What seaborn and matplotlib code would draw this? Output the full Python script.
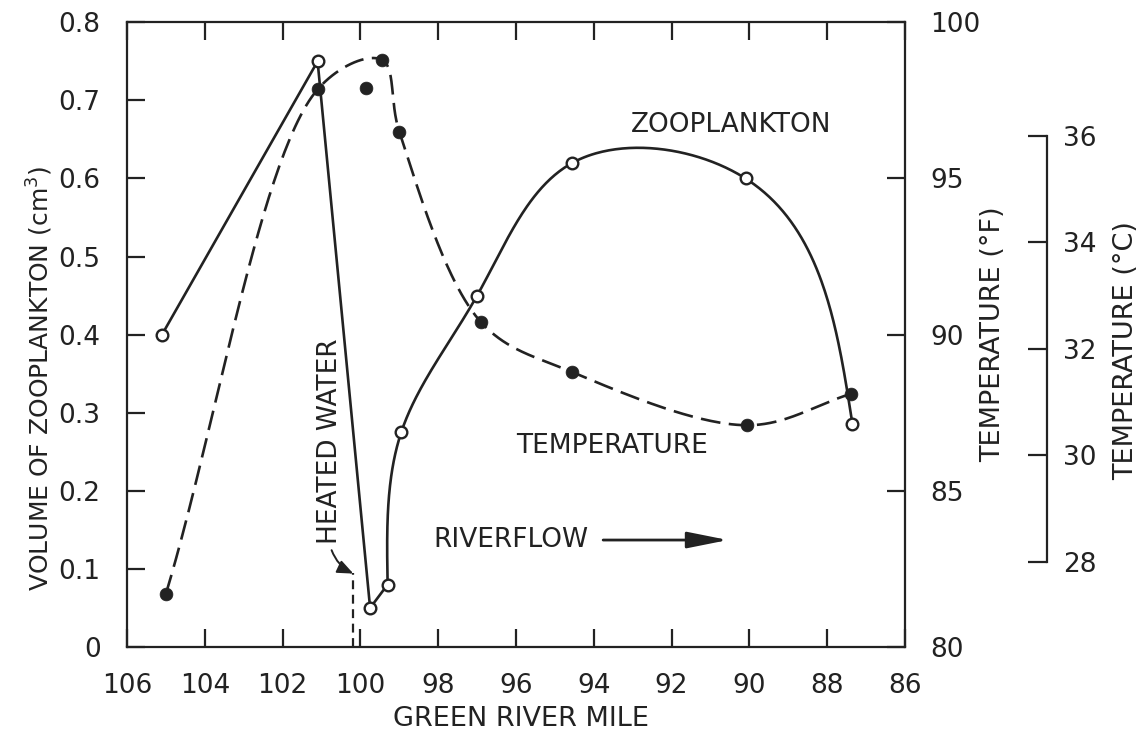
import numpy as np
import pandas as pd
import matplotlib
matplotlib.use("Agg")
import matplotlib.pyplot as plt
import seaborn as sns

# ---------------- data ----------------
zoo_mile = [105.1, 101.1, 99.75, 99.3, 98.95, 97.0, 94.55, 90.1, 87.35]
zoo_vol = [0.40, 0.75, 0.05, 0.08, 0.275, 0.45, 0.62, 0.60, 0.285]

temp_mile = [105.0, 101.1, 99.85, 99.45, 99.0, 96.9, 94.55, 90.05, 87.4]
temp_F = [81.7, 97.85, 97.9, 98.8, 96.5, 90.4, 88.8, 87.1, 88.1]
temp_off_curve = [2]          # measured point not on the drawn (fitted) curve

heated_mile = 100.2

x_ticks = [106, 104, 102, 100, 98, 96, 94, 92, 90, 88, 86]
vol_ticks = [0, 0.1, 0.2, 0.3, 0.4, 0.5, 0.6, 0.7, 0.8]
vol_tick_labels = ["0", "0.1", "0.2", "0.3", "0.4", "0.5", "0.6", "0.7", "0.8"]
F_ticks = [80, 85, 90, 95, 100]
C_ticks = [28, 30, 32, 34, 36]

INK = "#222222"

# ---------------- styling ----------------
sns.set_theme(style="white")
plt.rcParams["font.family"] = ["DejaVu Sans"]
plt.rcParams["mathtext.default"] = "regular"

fig = plt.figure(figsize=(11.45, 7.35), dpi=100)
L, B, W, H = 0.1109, 0.1197, 0.6795, 0.850
ax = fig.add_axes([L, B, W, H])
ax.set_xlim(106, 86)
ax.set_ylim(0, 0.8)

ax2 = ax.twinx()
ax2.set_ylim(80, 100)
ax3 = ax.twinx()
ax3.set_ylim(26.40, 38.13)

PXW, PXH = W * 1145, H * 735


def _to_px(xs, ys, ylo, yhi):
    px = (106 - np.asarray(xs, float)) / 20 * PXW
    py = (np.asarray(ys, float) - ylo) / (yhi - ylo) * PXH
    return np.column_stack([px, py])


def _from_px(s, ylo, yhi):
    return 106 - s[:, 0] / PXW * 20, ylo + s[:, 1] / PXH * (yhi - ylo)


def catmull_rom(xs, ys, ylo, yhi, n=60, alpha=0.5):
    """Centripetal Catmull-Rom curve through the measured points."""
    pts = _to_px(xs, ys, ylo, yhi)
    P = np.vstack([2 * pts[0] - pts[1], pts, 2 * pts[-1] - pts[-2]])
    out = []
    for i in range(len(P) - 3):
        p0, p1, p2, p3 = P[i:i + 4]
        t0 = 0.0
        t1 = t0 + np.linalg.norm(p1 - p0) ** alpha
        t2 = t1 + np.linalg.norm(p2 - p1) ** alpha
        t3 = t2 + np.linalg.norm(p3 - p2) ** alpha
        t = np.linspace(t1, t2, n)[:, None]
        A1 = (t1 - t) / (t1 - t0) * p0 + (t - t0) / (t1 - t0) * p1
        A2 = (t2 - t) / (t2 - t1) * p1 + (t - t1) / (t2 - t1) * p2
        A3 = (t3 - t) / (t3 - t2) * p2 + (t - t2) / (t3 - t2) * p3
        B1 = (t2 - t) / (t2 - t0) * A1 + (t - t0) / (t2 - t0) * A2
        B2 = (t3 - t) / (t3 - t1) * A2 + (t - t1) / (t3 - t1) * A3
        out.append((t2 - t) / (t2 - t1) * B1 + (t - t1) / (t2 - t1) * B2)
    return _from_px(np.vstack(out), ylo, yhi)


def natural_spline(xs, ys, ylo, yhi, n=80):
    """Natural parametric cubic spline through the measured points."""
    pts = _to_px(xs, ys, ylo, yhi)
    m = len(pts)
    t = np.concatenate([[0], np.cumsum(np.hypot(*np.diff(pts, axis=0).T))])
    h = np.diff(t)
    A = np.zeros((m, m))
    rhs = np.zeros((m, 2))
    A[0, 0] = A[-1, -1] = 1
    for i in range(1, m - 1):
        A[i, i - 1] = h[i - 1]
        A[i, i] = 2 * (h[i - 1] + h[i])
        A[i, i + 1] = h[i]
        rhs[i] = 6 * ((pts[i + 1] - pts[i]) / h[i] - (pts[i] - pts[i - 1]) / h[i - 1])
    M = np.linalg.solve(A, rhs)
    out = []
    for i in range(m - 1):
        tt = np.linspace(t[i], t[i + 1], n)
        a = (t[i + 1] - tt)[:, None]
        b = (tt - t[i])[:, None]
        out.append((M[i] * a ** 3 + M[i + 1] * b ** 3) / (6 * h[i])
                   + (pts[i] / h[i] - M[i] * h[i] / 6) * a
                   + (pts[i + 1] / h[i] - M[i + 1] * h[i] / 6) * b)
    return _from_px(np.vstack(out), ylo, yhi)


# ---------------- zooplankton (solid, open circles) ----------------
zoo = pd.DataFrame({"mile": zoo_mile, "vol": zoo_vol})
ax.plot(zoo["mile"][:4], zoo["vol"][:4], color=INK, lw=1.9, zorder=3)
cx, cy = natural_spline(zoo["mile"][3:], zoo["vol"][3:], 0, 0.8)
ax.plot(cx, cy, color=INK, lw=1.9, zorder=3)
sns.scatterplot(data=zoo, x="mile", y="vol", ax=ax, s=70, color="white",
                edgecolor=INK, linewidth=1.7, zorder=6, legend=False)

# ---------------- temperature (dashed, filled dots) ----------------
temp = pd.DataFrame({"mile": temp_mile, "F": temp_F})
on_curve = temp.drop(index=temp_off_curve)
tx, ty = catmull_rom(on_curve["mile"], on_curve["F"], 80, 100)
ax2.plot(tx, ty, color=INK, lw=1.9, linestyle=(0, (7.5, 3.2)), zorder=3)
sns.scatterplot(data=temp, x="mile", y="F", ax=ax2, s=85, color=INK,
                edgecolor=INK, linewidth=0.5, zorder=6, legend=False)

# ---------------- annotations ----------------
ax.plot([heated_mile, heated_mile], [0, 0.095], color=INK, lw=1.6,
        linestyle=(0, (4, 2.5)), zorder=3)
ax.text(100.78, 0.132, "HEATED WATER", rotation=90, ha="center", va="bottom",
        fontsize=19, color=INK)
ax.annotate("", xy=(heated_mile - 0.02, 0.094), xytext=(100.74, 0.124),
            arrowprops=dict(arrowstyle="-|>,head_length=0.6,head_width=0.25",
                            connectionstyle="arc3,rad=0.2", lw=1.4, color=INK,
                            mutation_scale=16, shrinkA=0, shrinkB=0))
ax.text(90.46, 0.668, "ZOOPLANKTON", ha="center", va="center", fontsize=19, color=INK)
ax.text(93.53, 0.258, "TEMPERATURE", ha="center", va="center", fontsize=19, color=INK)
ax.text(98.13, 0.137, "RIVERFLOW", ha="left", va="center", fontsize=19, color=INK)
ax.annotate("", xy=(90.55, 0.137), xytext=(93.76, 0.137),
            arrowprops=dict(arrowstyle="-|>,head_length=1.25,head_width=0.25",
                            lw=2.0, color=INK, mutation_scale=20,
                            shrinkA=0, shrinkB=0))

# ---------------- axes / ticks ----------------
for sp in ax.spines.values():
    sp.set_visible(True)
    sp.set_color(INK)
    sp.set_linewidth(1.6)
ax.set_xticks(x_ticks)
ax.set_xticklabels([str(v) for v in x_ticks])
ax.set_yticks(vol_ticks)
ax.set_yticklabels(vol_tick_labels)
ax.tick_params(axis="x", direction="in", length=13, width=1.6, color=INK,
               labelsize=19, pad=19, top=True, labeltop=False, bottom=True,
               labelcolor=INK)
ax.tick_params(axis="y", direction="in", length=13, width=1.6, color=INK,
               labelsize=19, pad=19, left=True, right=False, labelcolor=INK)

for sp in ax2.spines.values():
    sp.set_visible(False)
ax2.set_yticks(F_ticks)
ax2.set_yticklabels([str(v) for v in F_ticks])
ax2.tick_params(axis="y", direction="in", length=13, width=1.6, color=INK,
                labelsize=19, pad=18, right=True, labelcolor=INK)

for k, sp in ax3.spines.items():
    sp.set_visible(k == "right")
ax3.spines["right"].set_position(("axes", 1.183))
ax3.spines["right"].set_bounds(C_ticks[0], C_ticks[-1])
ax3.spines["right"].set_color(INK)
ax3.spines["right"].set_linewidth(1.6)
ax3.set_yticks(C_ticks)
ax3.set_yticklabels([str(v) for v in C_ticks])
ax3.tick_params(axis="y", direction="in", length=14, width=1.6, color=INK,
                labelsize=19, pad=11, right=True, labelcolor=INK)

ax.set_xlabel("GREEN RIVER MILE", fontsize=19.5, color=INK)
ax.xaxis.set_label_coords(0.506, -0.094)
ax.set_ylabel("VOLUME OF ZOOPLANKTON (cm$^3$)", fontsize=18, color=INK)
ax.yaxis.set_label_coords(-0.093, 0.43)
ax2.set_ylabel("TEMPERATURE (°F)", fontsize=19.5, color=INK)
ax2.yaxis.set_label_coords(1.096, 0.50)
ax3.set_ylabel("TEMPERATURE (°C)", fontsize=19.5, color=INK)
ax3.yaxis.set_label_coords(1.267, 0.475)

fig.savefig("out.png", dpi=100)
